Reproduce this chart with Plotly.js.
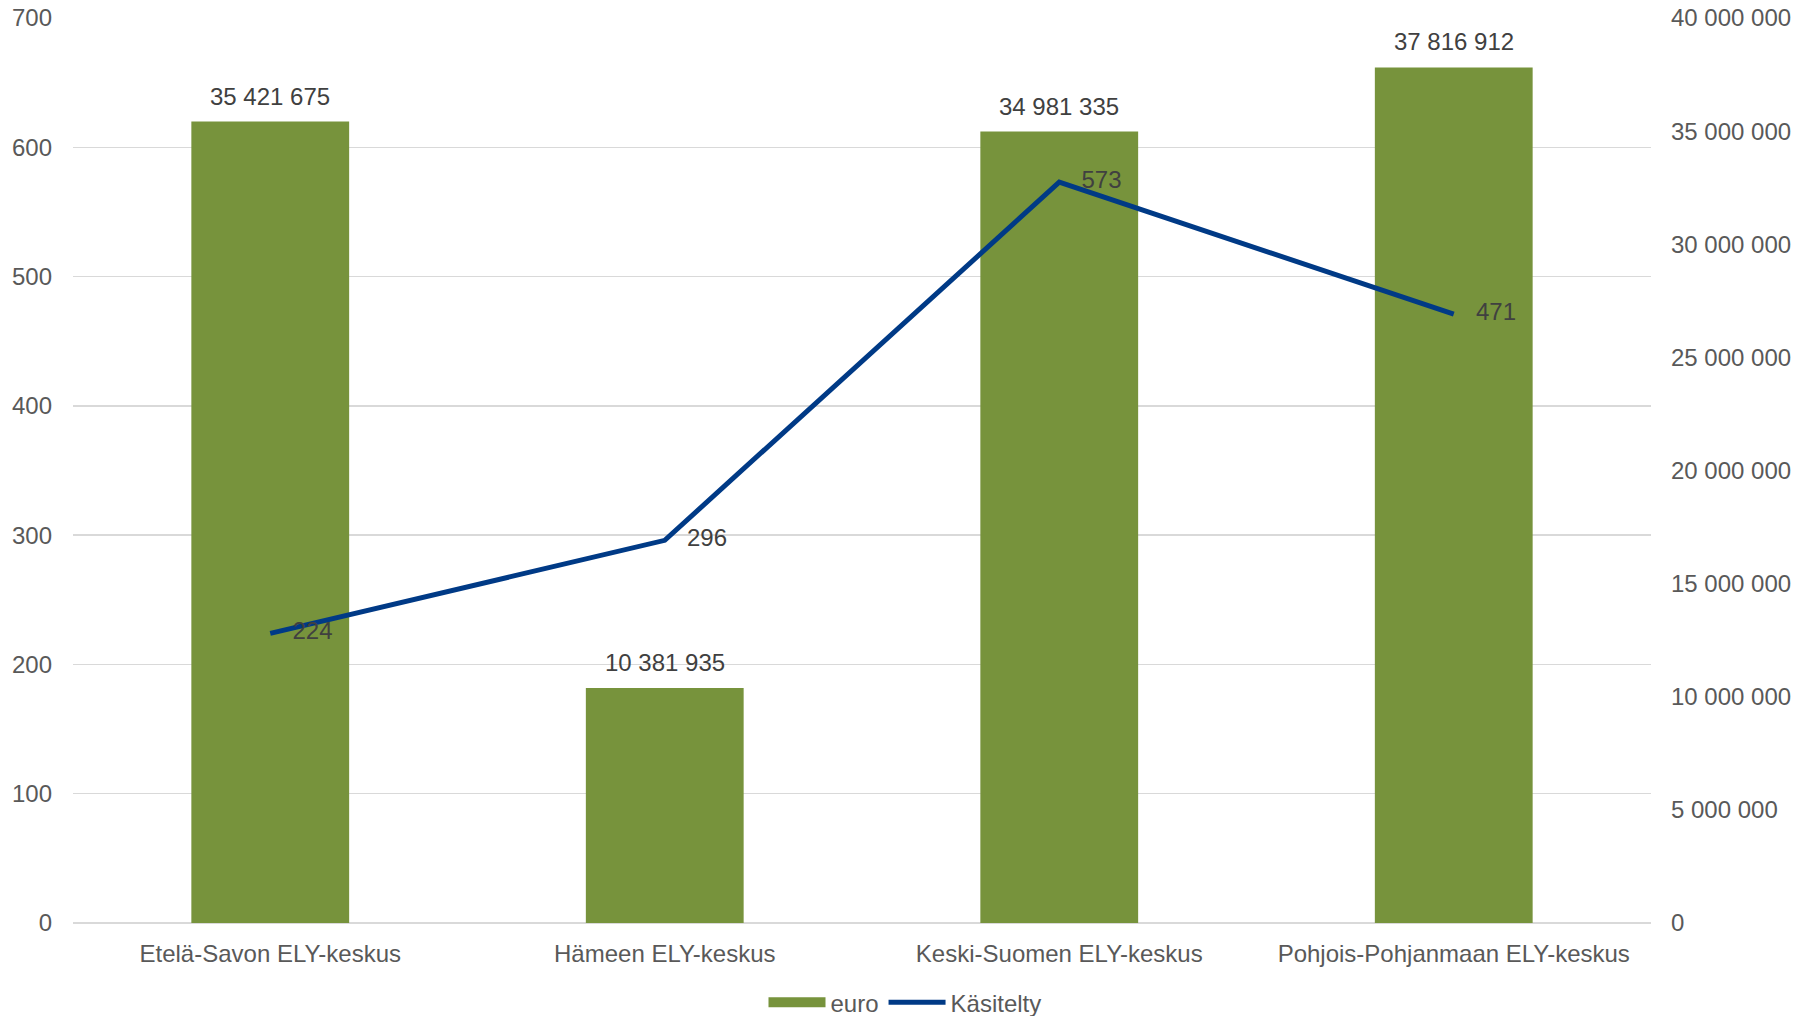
<!DOCTYPE html>
<html>
<head>
<meta charset="utf-8">
<script src="https://cdn.plot.ly/plotly-3.0.1.min.js"></script>
<style>html,body{margin:0;padding:0;background:#fff;}#chart{width:1810px;height:1016px;}</style>
</head>
<body>
<div id="chart"></div>
<script>
const categories = ["Etelä-Savon ELY-keskus", "Hämeen ELY-keskus", "Keski-Suomen ELY-keskus", "Pohjois-Pohjanmaan ELY-keskus"];
const euroValues = [35421675, 10381935, 34981335, 37816912];
const kasiteltyValues = [224, 296, 573, 471];
const leftTicks = [0, 100, 200, 300, 400, 500, 600, 700];
const rightTicks = [0, 5000000, 10000000, 15000000, 20000000, 25000000, 30000000, 35000000, 40000000];

const FONT = "Liberation Sans, Arial, sans-serif";
const GREEN = "#77933C";
const BLUE = "#003A86";

function fmtSpace(v) {
  return String(v).replace(/\B(?=(\d{3})+(?!\d))/g, " ");
}

const traces = [
  {
    type: "bar",
    name: "euro",
    x: categories,
    y: euroValues,
    yaxis: "y",
    width: 0.4,
    marker: {color: GREEN},
    showlegend: false,
    hoverinfo: "skip"
  },
  {
    // legend entry only (wide rectangle swatch for the bars)
    type: "scatter",
    mode: "lines",
    name: "euro",
    x: categories,
    y: categories.map(() => null),
    yaxis: "y2",
    line: {color: GREEN, width: 13},
    hoverinfo: "skip"
  },
  {
    type: "scatter",
    mode: "lines",
    name: "Käsitelty",
    x: categories,
    y: kasiteltyValues,
    yaxis: "y2",
    line: {color: BLUE, width: 5},
    hoverinfo: "skip"
  },
  {
    type: "scatter",
    mode: "markers+text",
    name: "Käsitelty labels",
    x: categories,
    y: kasiteltyValues,
    yaxis: "y2",
    marker: {size: 34, opacity: 0, color: BLUE},
    text: kasiteltyValues.map(String),
    textposition: "middle right",
    textfont: {family: FONT, size: 24, color: "#404040"},
    cliponaxis: false,
    showlegend: false,
    hoverinfo: "skip"
  }
];

const annotations = euroValues.map((v, i) => ({
  x: categories[i],
  y: v,
  xref: "x",
  yref: "y",
  text: fmtSpace(v),
  showarrow: false,
  yanchor: "bottom",
  yshift: 10,
  font: {family: FONT, size: 24, color: "#404040"}
}));

const layout = {
  width: 1810,
  height: 1016,
  separators: ", ",
  paper_bgcolor: "#ffffff",
  plot_bgcolor: "#ffffff",
  font: {family: FONT, size: 24, color: "#595959"},
  margin: {l: 73, r: 159, t: 18, b: 93, autoexpand: false},
  showlegend: true,
  legend: {
    orientation: "h",
    xref: "container",
    x: 0.5, xanchor: "center",
    y: -0.088, yanchor: "middle",
    font: {family: FONT, size: 24, color: "#595959"},
    traceorder: "normal",
    itemwidth: 57,
    itemgap: 22
  },
  annotations: annotations,
  xaxis: {
    type: "category",
    range: [-0.5, 3.5],
    showgrid: false,
    showline: false,
    zeroline: false,
    ticks: "",
    automargin: false,
    tickfont: {family: FONT, size: 24, color: "#595959"},
    ticklabelstandoff: 14
  },
  yaxis: {
    side: "right",
    range: [0, 40000000],
    tickvals: rightTicks,
    tickformat: ",",
    showgrid: false,
    zeroline: false,
    showline: false,
    automargin: false,
    tickfont: {family: FONT, size: 24, color: "#595959"},
    ticklabelstandoff: 19
  },
  yaxis2: {
    overlaying: "y",
    side: "left",
    range: [0, 700],
    tickvals: leftTicks,
    showgrid: true,
    gridcolor: "#d9d9d9",
    gridwidth: 1.5,
    zeroline: true,
    zerolinecolor: "#d9d9d9",
    zerolinewidth: 1.5,
    showline: false,
    automargin: false,
    tickfont: {family: FONT, size: 24, color: "#595959"},
    ticklabelstandoff: 20
  }
};

Plotly.newPlot("chart", traces, layout, {displayModeBar: false, staticPlot: true});
</script>
</body>
</html>
